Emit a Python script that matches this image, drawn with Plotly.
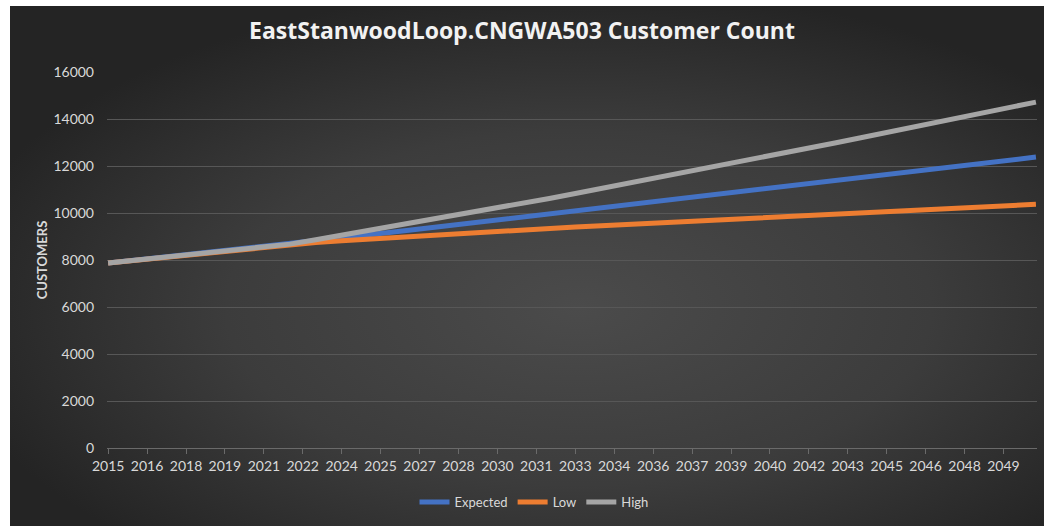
import base64
import plotly.graph_objects as go

# Annual customer counts (January of each year) plus an October 2050 end point
dates = [f"{y}-01-01" for y in range(2015, 2051)] + ["2050-10-01"]

history = [7870, 7985, 8100, 8215, 8330, 8445, 8560]  # 2015-2021, shared by all scenarios

expected = history + [
    8675, 8803, 8931, 9059, 9187, 9315, 9443, 9571, 9699, 9827,
    9955, 10085, 10213, 10341, 10469, 10597, 10725, 10853, 10981, 11109,
    11240, 11370, 11500, 11630, 11760, 11890, 12020, 12150, 12280, 12380,
]
low = history + [
    8675, 8745, 8815, 8885, 8955, 9020, 9085, 9150, 9215, 9280,
    9345, 9405, 9460, 9515, 9570, 9625, 9680, 9735, 9790, 9843,
    9896, 9950, 10004, 10058, 10112, 10166, 10220, 10274, 10328, 10370,
]
high = history + [
    8675, 8860, 9050, 9240, 9435, 9630, 9825, 10020, 10220, 10420,
    10620, 10830, 11040, 11250, 11460, 11675, 11890, 12105, 12320, 12540,
    12760, 12980, 13205, 13430, 13655, 13880, 14105, 14330, 14555, 14720,
]

# Axis labels every 18 months
tick_dates = []
tick_text = []
for i in range(24):
    m = i * 18
    y, mo = 2015 + m // 12, m % 12 + 1
    tick_dates.append(f"{y}-{mo:02d}-01")
    tick_text.append(str(y))

series = [
    ("Expected", expected, "#4472C4"),
    ("Low", low, "#ED7D31"),
    ("High", high, "#A5A5A5"),
]

fig = go.Figure()
for name, vals, color in series:
    fig.add_trace(go.Scatter(
        x=dates, y=vals, name=name, mode="lines",
        line=dict(color=color, width=5),
    ))

# Dark radial background panel
svg = (
    '<svg xmlns="http://www.w3.org/2000/svg" width="1034" height="520" '
    'viewBox="0 0 1034 520" preserveAspectRatio="none">'
    '<defs><radialGradient id="g" cx="0.55" cy="0.58" r="0.62">'
    '<stop offset="0" stop-color="#4b4b4b"/>'
    '<stop offset="0.55" stop-color="#3c3c3c"/>'
    '<stop offset="1" stop-color="#242424"/>'
    '</radialGradient></defs>'
    '<rect width="1034" height="520" fill="url(#g)"/></svg>'
)
src = "data:image/svg+xml;base64," + base64.b64encode(svg.encode()).decode()

W, H = 1044, 526
L, R, T, B = 107, 7, 72, 78
pw, ph = W - L - R, H - T - B


def px(x):
    return (x - L) / pw


def py(y):
    return (H - B - y) / ph


fig.add_layout_image(
    source=src, xref="paper", yref="paper",
    x=px(10), y=py(6), sizex=px(1044) - px(10), sizey=py(6) - py(526),
    xanchor="left", yanchor="top", sizing="stretch", layer="below",
)

font_color = "#d9d9d9"
fig.update_layout(
    width=W, height=H,
    margin=dict(l=L, r=R, t=T, b=B),
    paper_bgcolor="white",
    plot_bgcolor="rgba(0,0,0,0)",
    font=dict(family="Lato, 'Open Sans', sans-serif", color=font_color, size=14),
    title=dict(
        text="EastStanwoodLoop.CNGWA503 Customer Count",
        x=0.5, xref="container", xanchor="center",
        y=1 - 31 / H, yanchor="middle",
        font=dict(size=23, color="#f2f2f2", family="'Open Sans', sans-serif", weight="bold"),
    ),
    xaxis=dict(
        type="date",
        range=["2014-12-16", "2050-10-16"],
        tickmode="array", tickvals=tick_dates, ticktext=tick_text,
        showgrid=False, zeroline=False,
        showline=True, linecolor="#6a6a6a", linewidth=1,
        ticks="outside", ticklen=5, tickcolor="#6a6a6a",
        tickfont=dict(size=14, color=font_color),
        tickangle=0,
    ),
    yaxis=dict(
        range=[0, 16000], dtick=2000, tick0=0, tickformat="d",
        showgrid=True, gridcolor="#575757", gridwidth=1,
        zeroline=False, showline=False,
        ticks="", ticklabelstandoff=12,
        tickfont=dict(size=14, color=font_color),
        title=dict(
            text="CUSTOMERS", standoff=2,
            font=dict(size=13, color=font_color, weight="bold"),
        ),
    ),
    legend=dict(
        orientation="h", x=px(534), xanchor="center",
        y=py(502), yanchor="middle",
        font=dict(size=13, color=font_color),
        bgcolor="rgba(0,0,0,0)", itemwidth=30, tracegroupgap=0,
    ),
    showlegend=True,
)

fig.write_html("out.html")
